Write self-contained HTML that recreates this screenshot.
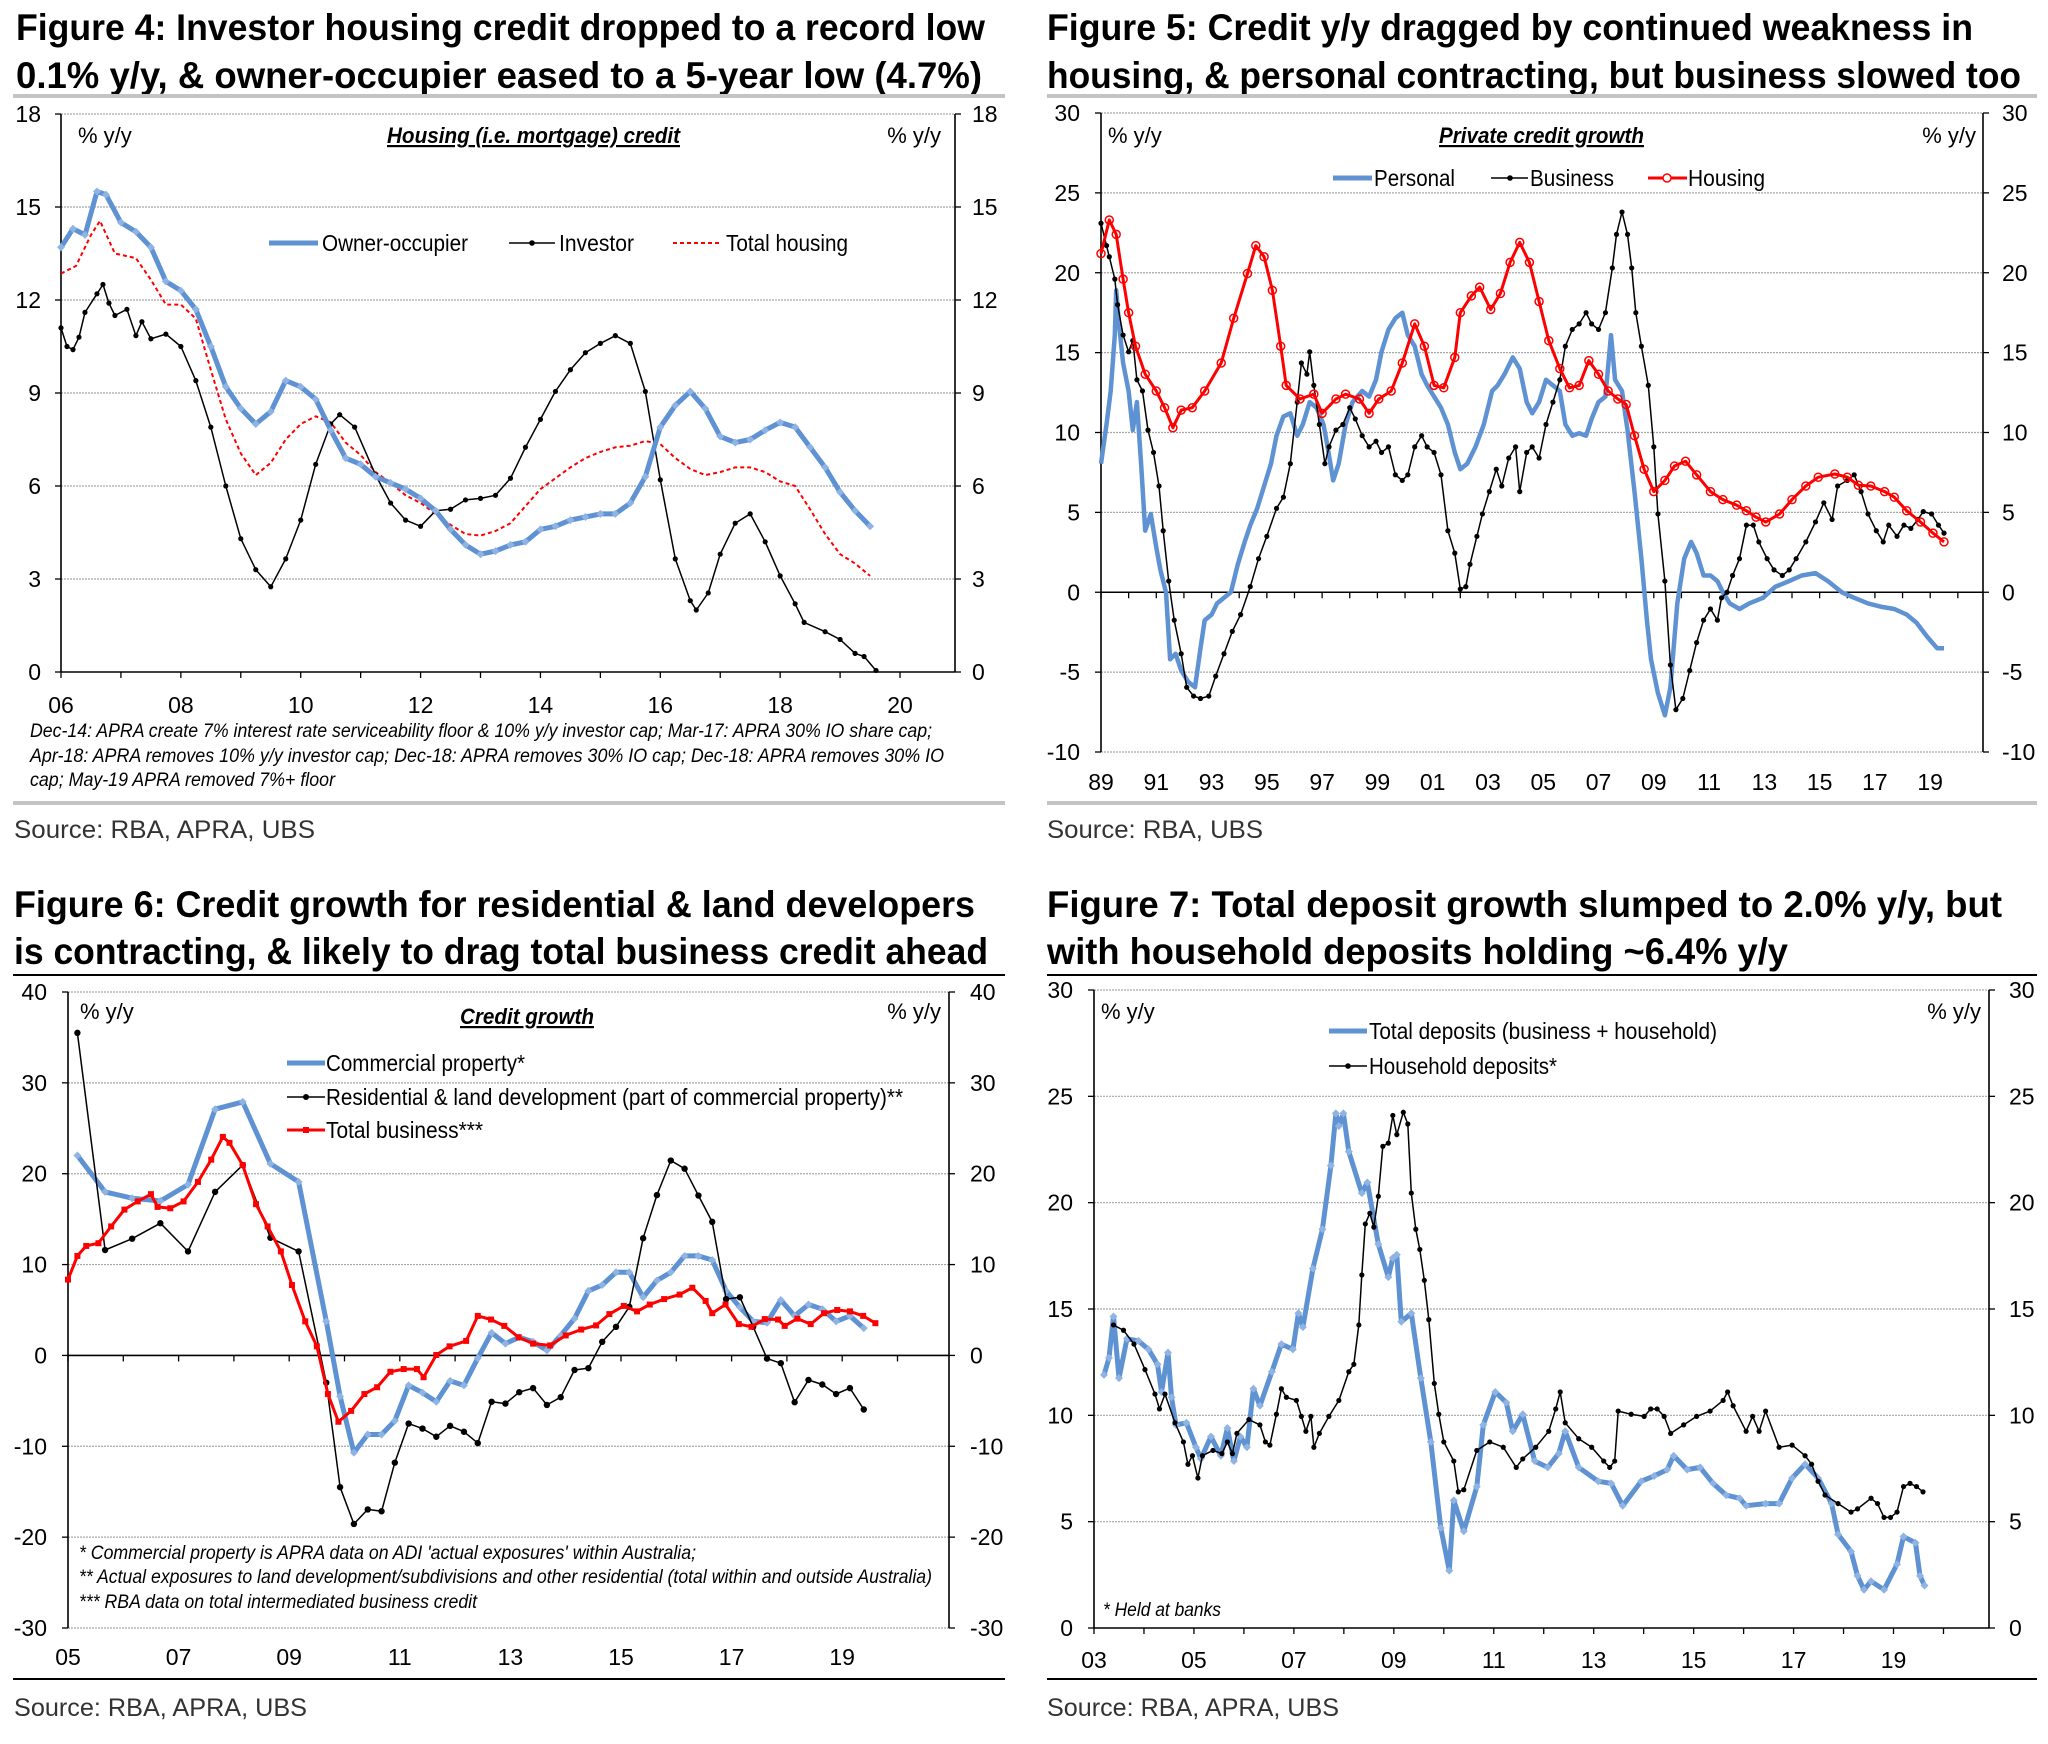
<!DOCTYPE html>
<html><head><meta charset="utf-8">
<style>
html,body{margin:0;padding:0;background:#fff;}
svg{display:block;font-family:"Liberation Sans",sans-serif;}
.ttl{font-weight:bold;font-size:37px;fill:#000;}
.src{font-size:25px;fill:#333;}
.leg{font-size:23px;fill:#000;font-family:"Liberation Sans Narrow","Liberation Sans",sans-serif;}
.unit{font-size:22px;fill:#000;font-family:"Liberation Sans Narrow","Liberation Sans",sans-serif;}
.ct{font-size:22px;font-weight:bold;font-style:italic;text-decoration:underline;fill:#000;}
.fn{font-size:19px;font-style:italic;fill:#000;}
.tick{font-size:23px;fill:#000;font-family:"Liberation Sans Narrow","Liberation Sans",sans-serif;}
</style></head>
<body>
<svg id="page" xmlns="http://www.w3.org/2000/svg" width="2048" height="1744" viewBox="0 0 2048 1744">
<rect x="0" y="0" width="2048" height="1744" fill="#fff"/>

<!-- Figure 4 -->
<g>
<text class="ttl" x="16" y="40" textLength="969" lengthAdjust="spacingAndGlyphs">Figure 4: Investor housing credit dropped to a record low</text>
<text class="ttl" x="16" y="88" textLength="966" lengthAdjust="spacingAndGlyphs">0.1% y/y, &amp; owner-occupier eased to a 5-year low (4.7%)</text>
<rect x="13" y="94" width="992" height="4" fill="#c4c4c4"/>
<text class="unit" x="78" y="143">% y/y</text>
<text class="unit" x="941" y="143" text-anchor="end">% y/y</text>
<text class="ct" x="387" y="143" textLength="293" lengthAdjust="spacingAndGlyphs">Housing (i.e. mortgage) credit</text>
<line x1="269" y1="243" x2="318" y2="243" stroke="#5f92d2" stroke-width="5"/>
<text class="leg" x="322" y="251" textLength="146" lengthAdjust="spacingAndGlyphs">Owner-occupier</text>
<line x1="509" y1="243" x2="555" y2="243" stroke="#000" stroke-width="1.5"/>
<circle cx="532" cy="243" r="2.8" fill="#000"/>
<text class="leg" x="559" y="251" textLength="75" lengthAdjust="spacingAndGlyphs">Investor</text>
<line x1="673" y1="243" x2="722" y2="243" stroke="#f00" stroke-width="2" stroke-dasharray="4 3"/>
<text class="leg" x="726" y="251" textLength="122" lengthAdjust="spacingAndGlyphs">Total housing</text>
<text class="fn" x="30" y="737" textLength="902" lengthAdjust="spacingAndGlyphs">Dec-14: APRA create 7% interest rate serviceability floor &amp; 10% y/y investor cap; Mar-17: APRA 30% IO share cap;</text>
<text class="fn" x="30" y="762" textLength="914" lengthAdjust="spacingAndGlyphs">Apr-18: APRA removes 10%  y/y investor cap; Dec-18: APRA removes 30% IO cap; Dec-18: APRA removes 30% IO</text>
<text class="fn" x="30" y="786" textLength="305" lengthAdjust="spacingAndGlyphs">cap; May-19 APRA removed 7%+ floor</text>
<rect x="13" y="801" width="992" height="4" fill="#c4c4c4"/>
<text class="src" x="14" y="838" textLength="301" lengthAdjust="spacingAndGlyphs">Source:  RBA, APRA, UBS</text>
</g>

<!-- Figure 5 -->
<g>
<text class="ttl" x="1047" y="40" textLength="926" lengthAdjust="spacingAndGlyphs">Figure 5: Credit y/y dragged by continued weakness in</text>
<text class="ttl" x="1047" y="88" textLength="974" lengthAdjust="spacingAndGlyphs">housing, &amp; personal contracting, but business slowed too</text>
<rect x="1047" y="94" width="990" height="4" fill="#c4c4c4"/>
<text class="unit" x="1108" y="143">% y/y</text>
<text class="unit" x="1976" y="143" text-anchor="end">% y/y</text>
<text class="ct" x="1439" y="143" textLength="205" lengthAdjust="spacingAndGlyphs">Private credit growth</text>
<line x1="1333" y1="178" x2="1372" y2="178" stroke="#5f92d2" stroke-width="5"/>
<text class="leg" x="1374" y="186" textLength="81" lengthAdjust="spacingAndGlyphs">Personal</text>
<line x1="1491" y1="178" x2="1528" y2="178" stroke="#000" stroke-width="1.5"/>
<circle cx="1510" cy="178" r="2.8" fill="#000"/>
<text class="leg" x="1530" y="186" textLength="84" lengthAdjust="spacingAndGlyphs">Business</text>
<line x1="1648" y1="178" x2="1687" y2="178" stroke="#f00" stroke-width="3"/>
<circle cx="1667" cy="178" r="4" fill="#fff" stroke="#f00" stroke-width="1.5"/>
<text class="leg" x="1688" y="186" textLength="77" lengthAdjust="spacingAndGlyphs">Housing</text>
<rect x="1047" y="801" width="990" height="4" fill="#c4c4c4"/>
<text class="src" x="1047" y="838" textLength="216" lengthAdjust="spacingAndGlyphs">Source:  RBA, UBS</text>
</g>

<!-- Figure 6 -->
<g>
<text class="ttl" x="14" y="917" textLength="961" lengthAdjust="spacingAndGlyphs">Figure 6: Credit growth for residential &amp; land developers</text>
<text class="ttl" x="14" y="964" textLength="974" lengthAdjust="spacingAndGlyphs">is contracting, &amp; likely to drag total business credit ahead</text>
<rect x="13" y="974" width="992" height="2" fill="#000"/>
<text class="unit" x="80" y="1019">% y/y</text>
<text class="unit" x="941" y="1019" text-anchor="end">% y/y</text>
<text class="ct" x="460" y="1024" textLength="134" lengthAdjust="spacingAndGlyphs">Credit growth</text>
<line x1="287" y1="1063" x2="325" y2="1063" stroke="#5f92d2" stroke-width="5"/>
<text class="leg" x="326" y="1071" textLength="199" lengthAdjust="spacingAndGlyphs">Commercial property*</text>
<line x1="287" y1="1097" x2="325" y2="1097" stroke="#000" stroke-width="1.5"/>
<circle cx="306" cy="1097" r="3" fill="#000"/>
<text class="leg" x="326" y="1105" textLength="577" lengthAdjust="spacingAndGlyphs">Residential &amp; land development (part of commercial property)**</text>
<line x1="287" y1="1130" x2="325" y2="1130" stroke="#f00" stroke-width="3"/>
<rect x="303" y="1127" width="6" height="6" fill="#f00"/>
<text class="leg" x="326" y="1138" textLength="157" lengthAdjust="spacingAndGlyphs">Total business***</text>
<text class="fn" x="79" y="1559" textLength="617" lengthAdjust="spacingAndGlyphs">* Commercial property is APRA data on ADI 'actual exposures' within Australia;</text>
<text class="fn" x="79" y="1583" textLength="853" lengthAdjust="spacingAndGlyphs">** Actual exposures to land development/subdivisions and other residential (total within and outside Australia)</text>
<text class="fn" x="79" y="1608" textLength="398" lengthAdjust="spacingAndGlyphs">*** RBA data on total intermediated business credit</text>
<rect x="13" y="1678" width="992" height="2" fill="#000"/>
<text class="src" x="14" y="1716" textLength="293" lengthAdjust="spacingAndGlyphs">Source: RBA, APRA, UBS</text>
</g>

<!-- Figure 7 -->
<g>
<text class="ttl" x="1047" y="917" textLength="955" lengthAdjust="spacingAndGlyphs">Figure 7: Total deposit growth slumped to 2.0% y/y, but</text>
<text class="ttl" x="1047" y="964" textLength="741" lengthAdjust="spacingAndGlyphs">with household deposits holding ~6.4% y/y</text>
<rect x="1047" y="974" width="990" height="2" fill="#000"/>
<text class="unit" x="1101" y="1019">% y/y</text>
<text class="unit" x="1981" y="1019" text-anchor="end">% y/y</text>
<line x1="1329" y1="1031" x2="1367" y2="1031" stroke="#5f92d2" stroke-width="5"/>
<text class="leg" x="1369" y="1039" textLength="348" lengthAdjust="spacingAndGlyphs">Total deposits (business + household)</text>
<line x1="1329" y1="1066" x2="1367" y2="1066" stroke="#000" stroke-width="1.5"/>
<circle cx="1348" cy="1066" r="2.8" fill="#000"/>
<text class="leg" x="1369" y="1074" textLength="188" lengthAdjust="spacingAndGlyphs">Household deposits*</text>
<text class="fn" x="1103" y="1616" textLength="118" lengthAdjust="spacingAndGlyphs">* Held at banks</text>
<rect x="1047" y="1678" width="990" height="2" fill="#000"/>
<text class="src" x="1047" y="1716" textLength="292" lengthAdjust="spacingAndGlyphs">Source: RBA, APRA, UBS</text>
</g>
</svg>

<script>
// ---------- Figure 4 data ----------
const f4OwnerYears=[6.0,6.2,6.4,6.6,6.75,7.0,7.25,7.5,7.75,8.0,8.25,8.5,8.75,9.0,9.25,9.5,9.75,10.0,10.25,10.5,10.75,11.0,11.25,11.5,11.75,12.0,12.25,12.5,12.75,13.0,13.25,13.5,13.75,14.0,14.25,14.5,14.75,15.0,15.25,15.5,15.75,16.0,16.25,16.5,16.75,17.0,17.25,17.5,17.75,18.0,18.25,18.5,18.75,19.0,19.25,19.5];
const f4OwnerValues=[13.7,14.3,14.1,15.5,15.4,14.5,14.2,13.7,12.6,12.3,11.7,10.5,9.2,8.5,8.0,8.4,9.4,9.2,8.8,7.8,6.9,6.7,6.3,6.1,5.9,5.6,5.2,4.6,4.1,3.8,3.9,4.1,4.2,4.6,4.7,4.9,5.0,5.1,5.1,5.45,6.3,7.9,8.6,9.05,8.5,7.6,7.4,7.5,7.8,8.05,7.9,7.25,6.6,5.8,5.2,4.7];
const f4InvestorYears=[6.0,6.1,6.2,6.3,6.4,6.6,6.7,6.8,6.9,7.1,7.25,7.35,7.5,7.75,8.0,8.25,8.5,8.75,9.0,9.25,9.5,9.75,10.0,10.25,10.5,10.65,10.9,11.25,11.5,11.75,12.0,12.25,12.5,12.75,13.0,13.25,13.5,13.75,14.0,14.25,14.5,14.75,15.0,15.25,15.5,15.75,16.0,16.25,16.5,16.6,16.8,17.0,17.25,17.5,17.75,18.0,18.25,18.4,18.75,19.0,19.25,19.4,19.6];
const f4InvestorValues=[11.1,10.5,10.4,10.8,11.6,12.2,12.5,11.9,11.5,11.7,10.85,11.3,10.75,10.9,10.5,9.4,7.9,6.0,4.3,3.3,2.75,3.65,4.9,6.7,8.0,8.3,7.9,6.35,5.45,4.9,4.7,5.2,5.25,5.55,5.6,5.7,6.25,7.25,8.15,9.05,9.75,10.3,10.6,10.85,10.6,9.05,6.2,3.65,2.3,2.0,2.55,3.8,4.8,5.1,4.2,3.1,2.2,1.6,1.3,1.05,0.6,0.5,0.05];
const f4TotalYears=[6.0,6.25,6.5,6.65,6.9,7.25,7.5,7.75,8.0,8.25,8.5,8.75,9.0,9.25,9.5,9.75,10.0,10.25,10.5,10.75,11.0,11.25,11.5,11.75,12.0,12.25,12.5,12.75,13.0,13.25,13.5,13.75,14.0,14.25,14.5,14.75,15.0,15.25,15.5,15.75,16.0,16.25,16.5,16.75,17.0,17.25,17.5,17.75,18.0,18.25,18.5,18.75,19.0,19.25,19.5];
const f4TotalValues=[12.85,13.1,14.1,14.55,13.5,13.35,12.65,11.85,11.85,11.4,9.75,8.15,7.05,6.35,6.75,7.5,8.0,8.25,8.05,7.4,7.0,6.45,6.1,5.7,5.45,5.1,4.75,4.45,4.4,4.55,4.8,5.35,5.9,6.25,6.6,6.9,7.1,7.25,7.3,7.45,7.35,6.9,6.55,6.35,6.45,6.6,6.6,6.45,6.15,6.0,5.25,4.45,3.8,3.5,3.1];
const f4YTicks=[0,3,6,9,12,15,18];
const f4XTicks=[6,8,10,12,14,16,18,20];

// ---------- Figure 5 data ----------
const f5HousingYears=[89.0,89.3,89.55,89.8,90.0,90.25,90.6,91.0,91.3,91.6,91.9,92.3,92.75,93.35,93.8,94.3,94.6,94.9,95.2,95.5,95.7,96.2,96.7,97.0,97.5,97.85,98.35,98.7,99.05,99.5,99.9,100.35,100.7,101.05,101.4,101.8,102.0,102.4,102.7,103.1,103.45,103.8,104.15,104.5,104.85,105.2,105.6,105.95,106.3,106.65,107.0,107.35,107.7,108.0,108.3,108.65,109.0,109.4,109.75,110.15,110.55,111.05,111.5,112.0,112.35,112.7,113.05,113.55,114.0,114.5,114.95,115.55,116.0,116.4,116.85,117.35,117.7,118.15,118.65,119.1,119.5];
const f5HousingValues=[21.2,23.3,22.4,19.6,17.5,15.4,13.65,12.6,11.55,10.3,11.4,11.55,12.6,14.35,17.15,19.95,21.7,21.0,18.9,15.4,12.95,12.1,12.4,11.2,12.1,12.4,12.1,11.2,12.1,12.6,14.35,16.8,15.4,12.95,12.8,14.7,17.5,18.55,19.1,17.7,18.7,20.65,21.9,20.65,18.2,15.75,14.0,12.8,12.95,14.5,13.65,12.6,12.1,11.75,9.8,7.7,6.3,7.0,7.9,8.2,7.35,6.3,5.8,5.45,5.1,4.7,4.4,4.9,5.8,6.65,7.2,7.4,7.2,6.7,6.65,6.3,5.95,5.1,4.4,3.7,3.15];
const f5BusinessYears=[89.0,89.2,89.3,89.5,89.6,89.8,90.0,90.15,90.3,90.5,90.7,90.9,91.1,91.25,91.45,91.65,91.9,92.1,92.35,92.6,92.9,93.15,93.45,93.75,94.05,94.4,94.7,95.0,95.35,95.6,95.85,96.1,96.25,96.45,96.55,96.7,96.9,97.1,97.25,97.5,97.75,98.0,98.2,98.45,98.7,98.95,99.15,99.4,99.65,99.9,100.1,100.35,100.6,100.8,101.05,101.3,101.55,101.8,102.0,102.2,102.35,102.6,102.8,103.05,103.3,103.5,103.75,104.0,104.15,104.4,104.6,104.85,105.1,105.35,105.6,105.8,106.05,106.3,106.55,106.75,107.0,107.25,107.5,107.65,107.85,108.05,108.2,108.35,108.55,108.8,109.0,109.15,109.4,109.6,109.8,110.05,110.3,110.55,110.8,111.05,111.3,111.45,111.65,111.85,112.1,112.35,112.6,112.8,113.1,113.35,113.65,113.9,114.15,114.5,114.85,115.15,115.45,115.65,116.0,116.25,116.5,116.75,117.05,117.3,117.5,117.8,118.05,118.3,118.55,118.75,119.05,119.3,119.5];
const f5BusinessValues=[23.1,21.7,21.0,19.6,18.0,16.1,15.05,15.75,13.3,12.6,10.15,8.75,6.65,3.85,0.7,-1.75,-3.85,-5.95,-6.5,-6.65,-6.5,-5.25,-3.85,-2.45,-1.4,0.35,2.1,3.5,5.25,5.95,8.05,11.9,14.35,13.65,15.05,12.95,10.5,8.05,9.1,10.15,10.5,11.55,10.85,9.8,9.1,9.45,8.75,9.1,7.35,7.0,7.35,9.1,9.8,9.1,8.75,7.35,3.85,2.45,0.2,0.35,1.75,3.5,4.9,6.3,7.7,6.65,8.4,9.1,6.3,8.75,9.1,8.4,10.5,11.9,13.3,15.4,16.45,16.8,17.5,16.8,16.45,17.5,20.3,22.4,23.8,22.4,20.3,17.5,15.4,12.95,9.1,4.9,0.7,-4.55,-7.35,-6.65,-4.9,-3.15,-1.75,-1.05,-1.75,-0.35,0,1.05,2.1,4.2,4.2,3.15,2.1,1.4,1.05,1.4,2.1,3.15,4.4,5.6,4.55,6.65,7.0,7.35,6.3,4.9,3.85,3.15,4.2,3.5,4.2,4.0,4.55,5.05,4.9,4.2,3.7];
const f5PersonalYears=[89.0,89.2,89.35,89.5,89.55,89.65,89.8,90.0,90.15,90.3,90.45,90.6,90.8,91.0,91.15,91.35,91.5,91.7,91.9,92.15,92.4,92.6,92.75,93.0,93.2,93.45,93.7,93.95,94.2,94.4,94.65,94.9,95.15,95.35,95.6,95.85,96.1,96.3,96.55,96.8,97.05,97.2,97.4,97.6,97.85,98.1,98.45,98.7,98.95,99.15,99.4,99.65,99.9,100.1,100.35,100.6,100.8,101.05,101.3,101.55,101.8,102.0,102.25,102.55,102.85,103.15,103.35,103.6,103.9,104.15,104.4,104.6,104.85,105.1,105.35,105.6,105.8,106.05,106.3,106.55,106.75,107.0,107.25,107.45,107.6,107.85,108.05,108.3,108.55,108.75,108.9,109.15,109.4,109.6,109.85,110.1,110.35,110.55,110.8,111.05,111.3,111.5,111.75,112.1,112.45,112.95,113.4,113.9,114.35,114.85,115.3,115.8,116.25,116.75,117.2,117.7,118.15,118.5,118.9,119.25,119.5];
const f5PersonalValues=[8.05,10.5,12.6,16.1,18.9,16.8,14.35,12.6,10.15,11.9,8.05,3.85,4.9,2.8,1.4,0,-4.2,-3.85,-4.9,-5.6,-5.95,-3.5,-1.75,-1.4,-0.7,-0.35,0,1.75,3.15,4.2,5.25,6.65,8.05,9.8,11.0,11.2,9.8,10.5,11.9,11.55,10.5,9.1,7.0,8.05,10.5,11.9,12.6,12.25,13.3,15.05,16.45,17.15,17.5,16.1,15.4,13.65,12.95,12.25,11.55,10.5,8.75,7.7,8.05,9.1,10.5,12.6,12.95,13.65,14.7,14.0,11.9,11.2,11.9,13.3,12.95,12.6,10.5,9.8,9.95,9.8,10.85,11.9,12.25,16.1,13.3,12.6,10.15,6.3,2.1,-1.75,-4.2,-6.3,-7.7,-5.95,-0.7,2.1,3.15,2.45,1.05,1.05,0.7,0,-0.7,-1.05,-0.7,-0.35,0.35,0.7,1.05,1.2,0.7,0,-0.35,-0.7,-0.9,-1.05,-1.4,-1.9,-2.8,-3.5,-3.5];
const f5YTicks=[-10,-5,0,5,10,15,20,25,30];
const f5XTicks=[89,91,93,95,97,99,101,103,105,107,109,111,113,115,117,119];

// ---------- Figure 6 data ----------
const f6QuarterYears=[5.17,5.67,6.16,6.67,7.17,7.66,8.16,8.66,9.17,9.67,9.92,10.17,10.42,10.67,10.91,11.16,11.41,11.66,11.91,12.16,12.41,12.66,12.91,13.16,13.41,13.66,13.91,14.16,14.41,14.66,14.91,15.15,15.4,15.65,15.9,16.15,16.4,16.65,16.9,17.15,17.39,17.64,17.89,18.14,18.39,18.64,18.89,19.14,19.39];
const f6CommercialValues=[22.0,18.0,17.3,17.0,18.8,27.1,27.9,21.1,19.1,3.75,-4.5,-10.7,-8.7,-8.7,-7.2,-3.3,-4.1,-5.1,-2.8,-3.3,-0.3,2.5,1.3,2.0,1.5,0.55,2.2,4.05,7.1,7.75,9.15,9.15,6.4,8.25,9.15,10.95,10.95,10.5,7.1,5.3,3.75,3.6,6.1,4.35,5.6,5.1,3.75,4.35,3.0];
const f6ResidentialValues=[35.5,11.6,12.85,14.55,11.45,18.0,20.95,12.95,11.45,-3.0,-14.5,-18.55,-16.95,-17.15,-11.8,-7.5,-8.05,-8.95,-7.75,-8.4,-9.65,-5.1,-5.3,-4.05,-3.6,-5.45,-4.6,-1.6,-1.4,1.5,3.15,5.35,12.9,17.65,21.45,20.55,17.6,14.7,6.2,6.4,3.15,-0.35,-0.85,-5.15,-2.7,-3.2,-4.25,-3.6,-5.95];
const f6BusinessYears=[5.0,5.17,5.33,5.55,5.78,6.02,6.26,6.5,6.62,6.85,7.09,7.35,7.59,7.8,7.92,8.16,8.4,8.61,8.85,9.05,9.29,9.5,9.7,9.89,10.12,10.36,10.59,10.83,11.07,11.31,11.43,11.66,11.9,12.2,12.41,12.65,12.89,13.15,13.41,13.72,14.0,14.28,14.55,14.79,15.05,15.29,15.52,15.78,16.06,16.29,16.53,16.65,16.89,17.13,17.36,17.6,17.84,17.96,18.19,18.43,18.67,18.91,19.14,19.38,19.6];
const f6BusinessValues=[8.35,10.95,12.05,12.35,14.2,16.05,16.95,17.75,16.35,16.2,16.95,19.1,21.55,24.05,23.4,20.95,16.65,14.2,11.45,7.75,3.75,1.0,-4.25,-7.3,-6.1,-4.25,-3.5,-1.8,-1.5,-1.5,-2.4,0.05,1.0,1.6,4.35,3.95,3.25,2.0,1.3,1.1,2.2,2.85,3.3,4.55,5.45,4.85,5.6,6.2,6.7,7.45,6.0,4.65,5.6,3.45,3.15,4.0,3.95,3.25,4.05,3.45,4.65,5.0,4.85,4.35,3.55];
const f6YTicks=[-30,-20,-10,0,10,20,30,40];
const f6XTicks=[5,7,9,11,13,15,17,19];

// ---------- Figure 7 data ----------
const f7TotalYears=[3.2,3.3,3.39,3.5,3.66,3.89,4.09,4.27,4.35,4.48,4.55,4.64,4.85,5.04,5.14,5.34,5.54,5.67,5.8,5.93,6.06,6.19,6.32,6.56,6.75,6.98,7.09,7.18,7.38,7.57,7.74,7.84,7.9,7.99,8.1,8.36,8.47,8.69,8.89,8.98,9.06,9.15,9.35,9.54,9.74,9.94,10.11,10.2,10.4,10.66,10.79,11.03,11.25,11.38,11.58,11.82,12.08,12.3,12.43,12.7,13.09,13.35,13.58,13.95,14.21,14.47,14.6,14.87,15.13,15.39,15.65,15.92,16.05,16.44,16.71,16.97,17.23,17.49,17.76,17.89,18.15,18.28,18.41,18.55,18.81,19.07,19.2,19.44,19.53,19.62];
const f7TotalValues=[11.9,12.7,14.65,11.75,13.6,13.5,13.1,12.4,11.1,12.95,10.85,9.55,9.65,8.5,7.95,9.0,8.1,9.4,7.85,9.0,8.5,11.25,10.45,12.05,13.35,13.1,14.8,14.15,16.9,18.75,21.75,24.2,23.6,24.2,22.4,20.45,20.95,18.05,16.5,17.4,17.55,14.4,14.8,11.75,8.75,4.7,2.7,6.0,4.55,6.65,9.55,11.1,10.6,9.25,10.05,7.85,7.55,8.2,9.25,7.55,6.9,6.8,5.75,6.9,7.15,7.45,8.1,7.45,7.55,6.8,6.25,6.1,5.75,5.85,5.85,7.05,7.7,7.05,5.85,4.4,3.6,2.45,1.8,2.2,1.8,3.0,4.3,4.0,2.45,2.0];
const f7HouseholdYears=[3.39,3.59,3.8,4.02,4.22,4.31,4.42,4.62,4.79,4.88,4.97,5.08,5.17,5.38,5.56,5.67,5.77,5.86,6.1,6.32,6.43,6.52,6.65,6.75,6.85,7.05,7.15,7.24,7.34,7.4,7.51,7.7,7.9,8.1,8.2,8.3,8.36,8.43,8.52,8.6,8.69,8.78,8.89,8.98,9.06,9.19,9.28,9.35,9.44,9.52,9.61,9.7,9.81,9.9,10.0,10.2,10.29,10.4,10.66,10.92,11.19,11.45,11.58,11.84,12.1,12.24,12.33,12.43,12.7,12.96,13.2,13.32,13.42,13.49,13.75,14.01,14.14,14.27,14.41,14.54,14.8,15.06,15.33,15.59,15.68,15.79,16.05,16.18,16.31,16.44,16.71,16.97,17.23,17.36,17.49,17.63,17.89,18.15,18.28,18.55,18.68,18.81,18.94,19.07,19.2,19.33,19.46,19.59];
const f7HouseholdValues=[14.25,14.0,13.35,12.15,11.0,10.3,11.0,9.65,8.75,7.7,8.1,7.05,8.1,8.35,8.2,8.75,8.2,9.15,9.8,9.55,8.75,8.6,10.05,11.25,10.85,10.7,9.95,9.25,9.95,8.5,9.15,9.95,10.7,12.05,12.4,14.25,16.6,19.0,19.5,18.85,20.3,22.65,22.8,24.1,23.2,24.25,23.7,20.45,18.75,17.8,16.35,14.5,11.5,10.05,8.75,7.85,6.4,6.5,8.35,8.75,8.5,7.55,7.95,8.5,9.25,10.3,11.1,9.65,8.9,8.5,7.85,7.55,7.85,10.2,10.05,9.95,10.3,10.3,9.95,9.15,9.55,9.95,10.2,10.7,11.1,10.45,9.25,9.95,9.25,10.2,8.5,8.6,8.1,7.7,6.9,6.25,5.85,5.45,5.6,6.1,5.85,5.2,5.2,5.45,6.65,6.8,6.65,6.4];
const f7YTicks=[0,5,10,15,20,25,30];
const f7XTicks=[3,5,7,9,11,13,15,17,19];

// ---------- rendering ----------
const NS='http://www.w3.org/2000/svg';
const page=document.getElementById('page');
function mk(tag,parent){const e=document.createElementNS(NS,tag);parent.appendChild(e);return e;}
function lbl(v){const y=((Math.round(v)%100)+100)%100;return (y<10?'0':'')+y;}

function makeChart(cfg){
  const g=mk('g',page);
  
  
  const sx=v=>cfg.L+(v-cfg.x0)*cfg.pxPerYear;
  const sy=v=>cfg.B-(v-cfg.ymin)/(cfg.ymax-cfg.ymin)*(cfg.B-cfg.T);
  // gridlines
  cfg.yTicks.forEach(v=>{
    if(v===cfg.baseVal) return;
    const l=mk('line',g);
    
    
    l.setAttribute('x1',cfg.L);l.setAttribute('x2',cfg.R);
    l.setAttribute('y1',sy(v));l.setAttribute('y2',sy(v));
    l.setAttribute('stroke','#a8a8a8');l.setAttribute('stroke-width','1.2');l.setAttribute('stroke-dasharray','2 1');
  });
  // y labels & ticks
  cfg.yTicks.forEach(v=>{
    const t=mk('text',g);
    
    
    t.setAttribute('class','tick');t.setAttribute('x',cfg.L-cfg.lblGapL);t.setAttribute('y',sy(v)+8);
    t.setAttribute('text-anchor','end');t.textContent=v;
    const t2=mk('text',g);
    
    
    t2.setAttribute('class','tick');t2.setAttribute('x',cfg.R+cfg.lblGapR);t2.setAttribute('y',sy(v)+8);
    t2.textContent=v;
    [[cfg.L-6,cfg.L],[cfg.R,cfg.R+6]].forEach(p=>{
      const k=mk('line',g);
      
      
      k.setAttribute('x1',p[0]);k.setAttribute('x2',p[1]);k.setAttribute('y1',sy(v));k.setAttribute('y2',sy(v));
      k.setAttribute('stroke','#000');k.setAttribute('stroke-width','1.3');
    });
  });
  // axes
  [cfg.L,cfg.R].forEach(x=>{
    const a=mk('line',g);
    
    
    a.setAttribute('x1',x);a.setAttribute('x2',x);a.setAttribute('y1',cfg.T);a.setAttribute('y2',cfg.B);
    a.setAttribute('stroke','#000');a.setAttribute('stroke-width','1.6');
  });
  const by=sy(cfg.baseVal);
  const ax=mk('line',g);
  
  
  ax.setAttribute('x1',cfg.L);ax.setAttribute('x2',cfg.R);ax.setAttribute('y1',by);ax.setAttribute('y2',by);
  ax.setAttribute('stroke','#000');ax.setAttribute('stroke-width','1.6');
  for(let yr=Math.ceil(cfg.x0);sx(yr)<cfg.R;yr++){
    const k=mk('line',g);
    
    
    k.setAttribute('x1',sx(yr));k.setAttribute('x2',sx(yr));k.setAttribute('y1',by);k.setAttribute('y2',by+6);
    k.setAttribute('stroke','#000');k.setAttribute('stroke-width','1.3');
  }
  cfg.xTicks.forEach(v=>{
    const t=mk('text',g);
    
    
    t.setAttribute('class','tick');t.setAttribute('x',sx(v));t.setAttribute('y',cfg.xLblY);
    t.setAttribute('text-anchor','middle');t.textContent=lbl(v);
  });
  return {g,sx,sy};
}

function drawSeries(ch,xs,ys,st,name){
  const sg=mk('g',ch.g);
  
  
  const pts=xs.map((x,i)=>ch.sx(x).toFixed(1)+','+ch.sy(ys[i]).toFixed(1)).join(' ');
  const pl=mk('polyline',sg);
  
  
  pl.setAttribute('points',pts);pl.setAttribute('fill','none');
  pl.setAttribute('stroke',st.color);pl.setAttribute('stroke-width',st.w);
  pl.setAttribute('stroke-linejoin','round');
  if(st.dash) pl.setAttribute('stroke-dasharray',st.dash);
  if(!st.marker) return;
  xs.forEach((x,i)=>{
    const cx=ch.sx(x),cy=ch.sy(ys[i]);
    let m;
    if(st.marker==='dot'){
      m=mk('circle',sg);m.setAttribute('cx',cx);m.setAttribute('cy',cy);m.setAttribute('r',st.r||2.6);m.setAttribute('fill',st.color);
    }else if(st.marker==='ring'){
      m=mk('circle',sg);m.setAttribute('cx',cx);m.setAttribute('cy',cy);m.setAttribute('r',4);m.setAttribute('fill','none');m.setAttribute('stroke',st.color);m.setAttribute('stroke-width','1.5');
    }else if(st.marker==='square'){
      m=mk('rect',sg);m.setAttribute('x',cx-3);m.setAttribute('y',cy-3);m.setAttribute('width',6);m.setAttribute('height',6);m.setAttribute('fill',st.color);
    }else if(st.marker==='diamond'){
      m=mk('path',sg);m.setAttribute('d','M'+cx+' '+(cy-4)+'L'+(cx+4)+' '+cy+'L'+cx+' '+(cy+4)+'L'+(cx-4)+' '+cy+'Z');m.setAttribute('fill','#8fb4e3');
    }
    
    
  });
}

const BLUE={color:'#5f92d2',w:5,marker:'diamond'};
const BLACK={color:'#000',w:1.5,marker:'dot'};

const c4=makeChart({name:'figure-4',L:61,R:955,T:114,B:672,x0:6,pxPerYear:59.93,ymin:0,ymax:18,baseVal:0,yTicks:f4YTicks,xTicks:f4XTicks,xLblY:713,lblGapL:20,lblGapR:17});
drawSeries(c4,f4TotalYears,f4TotalValues,{color:'#f00',w:2,dash:'4 3'},'total-housing-series');
drawSeries(c4,f4InvestorYears,f4InvestorValues,BLACK,'investor-series');
drawSeries(c4,f4OwnerYears,f4OwnerValues,BLUE,'owner-occupier-series');

const c5=makeChart({name:'figure-5',L:1101,R:1983,T:113,B:752,x0:89,pxPerYear:27.64,ymin:-10,ymax:30,baseVal:0,yTicks:f5YTicks,xTicks:f5XTicks,xLblY:790,lblGapL:21,lblGapR:19});
drawSeries(c5,f5PersonalYears,f5PersonalValues,{color:'#5f92d2',w:4.5},'personal-series');
drawSeries(c5,f5BusinessYears,f5BusinessValues,BLACK,'business-series');
drawSeries(c5,f5HousingYears,f5HousingValues,{color:'#f00',w:3,marker:'ring'},'housing-series');

const c6=makeChart({name:'figure-6',L:68,R:949,T:992,B:1628,x0:5,pxPerYear:55.3,ymin:-30,ymax:40,baseVal:0,yTicks:f6YTicks,xTicks:f6XTicks,xLblY:1665,lblGapL:21,lblGapR:21});
drawSeries(c6,f6QuarterYears,f6CommercialValues,BLUE,'commercial-property-series');
drawSeries(c6,f6QuarterYears,f6ResidentialValues,{color:'#000',w:1.5,marker:'dot',r:3.2},'residential-land-series');
drawSeries(c6,f6BusinessYears,f6BusinessValues,{color:'#f00',w:3,marker:'square'},'total-business-series');

const c7=makeChart({name:'figure-7',L:1094,R:1989,T:990,B:1628,x0:3,pxPerYear:49.97,ymin:0,ymax:30,baseVal:0,yTicks:f7YTicks,xTicks:f7XTicks,xLblY:1668,lblGapL:21,lblGapR:20});
drawSeries(c7,f7TotalYears,f7TotalValues,BLUE,'total-deposits-series');
drawSeries(c7,f7HouseholdYears,f7HouseholdValues,BLACK,'household-deposits-series');
</script>
</body></html>
